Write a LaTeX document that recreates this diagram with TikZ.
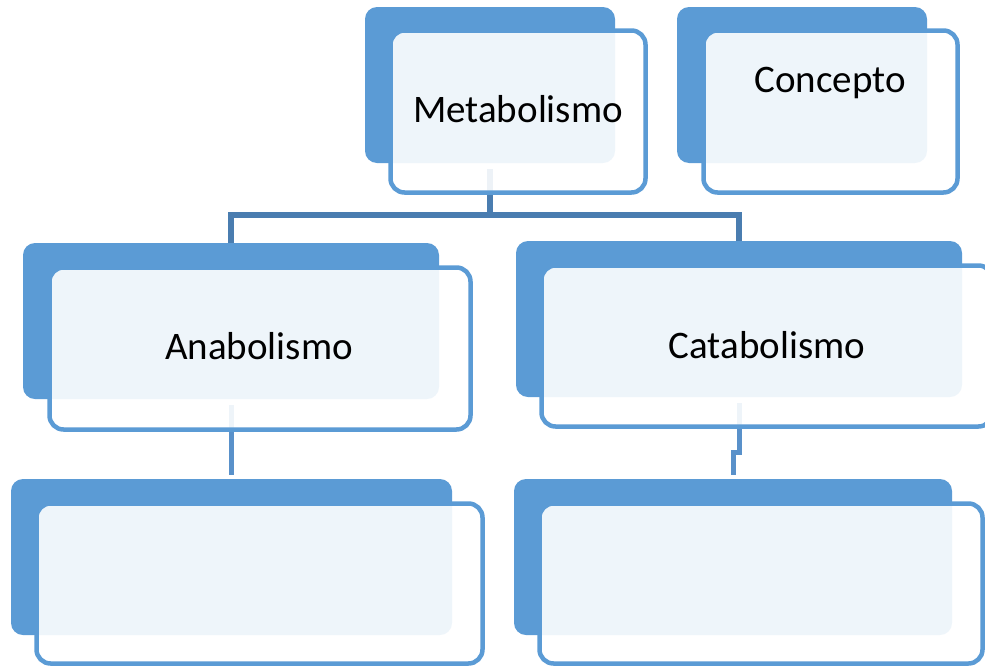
\documentclass[tikz,border=0pt]{standalone}
\usepackage{fontspec}
\setmainfont{Carlito}
\definecolor{accent}{HTML}{5B9BD5}
\definecolor{linkdark}{HTML}{4A7DB0}
\definecolor{linklight}{HTML}{5991CA}
\begin{document}
\begin{tikzpicture}[x=1pt,y=-1pt,
  backbox/.style={draw=none, fill=accent, rounded corners=12pt, inner sep=0pt,
                  minimum height=156pt},
  frontbox/.style={draw=accent, line width=4.5pt, fill=white, fill opacity=0.9,
                   rounded corners=14pt, inner sep=0pt, minimum height=162pt},
  boxtext/.style={font=\fontsize{39}{47}\selectfont, anchor=base, inner sep=0pt,
                  text=black},
  trunk/.style={draw=linkdark, line width=6pt},
  branch/.style={draw=linklight, line width=5pt}]
\useasboundingbox (0,0) rectangle (985,667);
\clip (0,0) rectangle (985,667);

% back plates
\node[backbox, minimum width=250pt] (metaB) at (490,85) {};
\node[backbox, minimum width=250pt] (concB) at (802,85) {};
\node[backbox, minimum width=416pt] (anaB)  at (231,321) {};
\node[backbox, minimum width=446pt] (cataB) at (739,319) {};
\node[backbox, minimum width=441pt] (botLB) at (231.5,557) {};
\node[backbox, minimum width=438pt] (botRB) at (733,557) {};

% connectors
\coordinate (hub) at ([yshift=-52pt]metaB.south);
\draw[trunk] ([yshift=-6pt]metaB.south) -- (hub) -| (anaB.north);
\draw[trunk] (hub) -| (cataB.north);
\draw[branch] ([yshift=-6pt]anaB.south) -- ([yshift=4pt]anaB.south |- botLB.north);
\draw[branch] ([yshift=-6pt]cataB.south) -- ++(0,49) -| ([yshift=4pt]botRB.north);

% front cards
\node[frontbox, minimum width=255pt] (metaF) at (518,111.5) {};
\node[frontbox, minimum width=254pt] (concF) at (830.5,111.5) {};
\node[frontbox, minimum width=421pt, minimum height=162pt] (anaF) at (260,348.5) {};
\node[frontbox, minimum width=451pt, minimum height=161pt] (cataF) at (767,346) {};
\node[frontbox, minimum width=446pt, minimum height=160pt] (botLF) at (259.5,583.5) {};
\node[frontbox, minimum width=443pt, minimum height=160pt] (botRF) at (761,583.5) {};

% labels
\node[boxtext] (metaT) at (518,122) {Metabolismo};
\node[boxtext] (concT) at (830,92) {Concepto};
\node[boxtext] (anaT)  at (259,359) {Anabolismo};
\node[boxtext] (cataT) at (767,358) {Catabolismo};
\end{tikzpicture}
\end{document}
